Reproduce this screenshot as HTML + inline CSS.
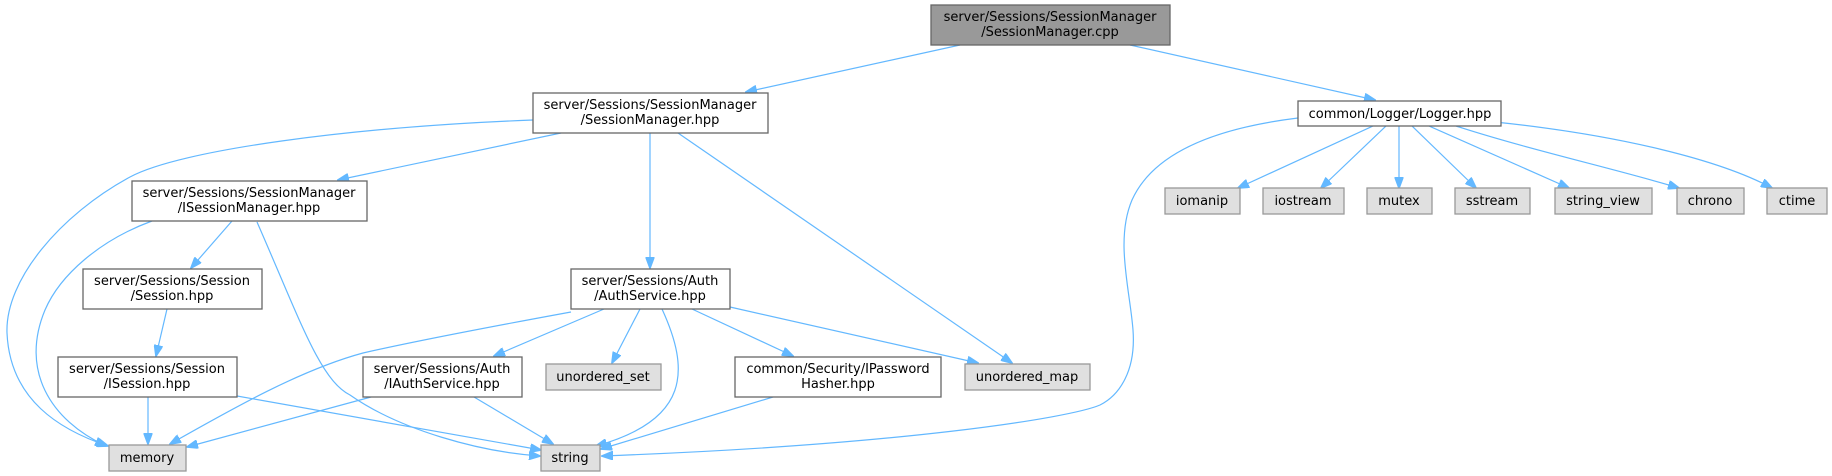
<!DOCTYPE html>
<html><head><meta charset="utf-8"><style>
html,body{margin:0;padding:0;background:#fff;}
svg{display:block}
text{font-family:"DejaVu Sans","Liberation Sans",sans-serif;font-size:13px;fill:#000;text-anchor:middle}
.n{fill:#fff;stroke:#666;stroke-width:1.3}
.g{fill:#e0e0e0;stroke:#999;stroke-width:1.3}
.e{fill:none;stroke:#63b8ff;stroke-width:1.2;marker-end:url(#a)}
</style></head><body>
<svg width="1832" height="476" viewBox="0 0 1832 476" xmlns="http://www.w3.org/2000/svg">
<defs><marker id="a" markerWidth="12" markerHeight="9" refX="11" refY="4.5" orient="auto" markerUnits="userSpaceOnUse"><path d="M0,0 L12,4.5 L0,9 z" fill="#63b8ff" stroke="#63b8ff"/></marker></defs>

<!-- edges -->
<path class="e" d="M960,45 L746,92"/>
<path class="e" d="M1130,45 L1375,100"/>
<path class="e" d="M533,120 C350,127 180,150 130,177 C60,215 5,280 7,333 C10,400 60,430 108,446"/>
<path class="e" d="M561,133 L338,180"/>
<path class="e" d="M650,133 L650,268"/>
<path class="e" d="M678,133 L1012,363"/>
<path class="e" d="M152,221 C100,240 60,275 45,310 C20,370 50,420 106,446"/>
<path class="e" d="M232,221 L191,268"/>
<path class="e" d="M257,222 C300,320 320,380 350,395 C400,430 480,452 540,456"/>
<path class="e" d="M167,309 L156,356"/>
<path class="e" d="M148,397 L148,444"/>
<path class="e" d="M237,396 L541,450"/>
<path class="e" d="M371,397 L187,447"/>
<path class="e" d="M474,397 L553,444"/>
<path class="e" d="M571,312 C500,325 420,340 363,353 C300,370 230,410 170,444"/>
<path class="e" d="M604,309 L494,356"/>
<path class="e" d="M640,309 L612,363"/>
<path class="e" d="M662,309 C690,370 690,420 596,446"/>
<path class="e" d="M692,309 L793,356"/>
<path class="e" d="M730,307 L978,363"/>
<path class="e" d="M773,397 L601,449"/>
<path class="e" d="M1298,118 C1200,130 1150,160 1132,200 C1115,240 1130,290 1133,330 C1136,370 1120,395 1100,405 C1070,418 900,445 602,456"/>
<path class="e" d="M1373,126 L1238,188"/>
<path class="e" d="M1386,126 L1321,188"/>
<path class="e" d="M1399,126 L1399,188"/>
<path class="e" d="M1412,126 L1476,188"/>
<path class="e" d="M1429,126 L1569,188"/>
<path class="e" d="M1456,126 C1530,150 1620,170 1679,188"/>
<path class="e" d="M1495,122 C1620,135 1720,160 1772,188"/>

<!-- nodes -->
<rect x="931" y="5" width="239" height="40" fill="#999" stroke="#666" stroke-width="1.3"/>
<text x="1050" y="21">server/Sessions/SessionManager</text><text x="1050" y="36">/SessionManager.cpp</text>

<rect class="n" x="533" y="93" width="235" height="40"/>
<text x="650" y="109">server/Sessions/SessionManager</text><text x="650" y="124">/SessionManager.hpp</text>

<rect class="n" x="132" y="181" width="235" height="40"/>
<text x="249" y="197">server/Sessions/SessionManager</text><text x="249" y="212">/ISessionManager.hpp</text>

<rect class="n" x="83" y="269" width="179" height="40"/>
<text x="172" y="285">server/Sessions/Session</text><text x="172" y="300">/Session.hpp</text>

<rect class="n" x="58" y="357" width="179" height="40"/>
<text x="147" y="373">server/Sessions/Session</text><text x="147" y="388">/ISession.hpp</text>

<rect class="n" x="363" y="357" width="159" height="40"/>
<text x="442" y="373">server/Sessions/Auth</text><text x="442" y="388">/IAuthService.hpp</text>

<rect class="n" x="571" y="269" width="159" height="40"/>
<text x="650" y="285">server/Sessions/Auth</text><text x="650" y="300">/AuthService.hpp</text>

<rect class="n" x="735" y="357" width="206" height="40"/>
<text x="838" y="373">common/Security/IPassword</text><text x="838" y="388">Hasher.hpp</text>

<rect class="g" x="546" y="364" width="115" height="26"/><text x="603" y="381">unordered_set</text>
<rect class="g" x="965" y="364" width="125" height="26"/><text x="1027" y="381">unordered_map</text>
<rect class="g" x="109" y="445" width="77" height="26"/><text x="147" y="462">memory</text>
<rect class="g" x="541" y="445" width="59" height="26"/><text x="570" y="462">string</text>

<rect class="n" x="1298" y="101" width="203" height="25"/>
<text x="1400" y="118">common/Logger/Logger.hpp</text>

<rect class="g" x="1165" y="188" width="75" height="26"/><text x="1202" y="205">iomanip</text>
<rect class="g" x="1263" y="188" width="81" height="26"/><text x="1303" y="205">iostream</text>
<rect class="g" x="1367" y="188" width="65" height="26"/><text x="1399" y="205">mutex</text>
<rect class="g" x="1455" y="188" width="75" height="26"/><text x="1492" y="205">sstream</text>
<rect class="g" x="1555" y="188" width="97" height="26"/><text x="1603" y="205">string_view</text>
<rect class="g" x="1677" y="188" width="67" height="26"/><text x="1710" y="205">chrono</text>
<rect class="g" x="1767" y="188" width="60" height="26"/><text x="1797" y="205">ctime</text>
</svg>
</body></html>
